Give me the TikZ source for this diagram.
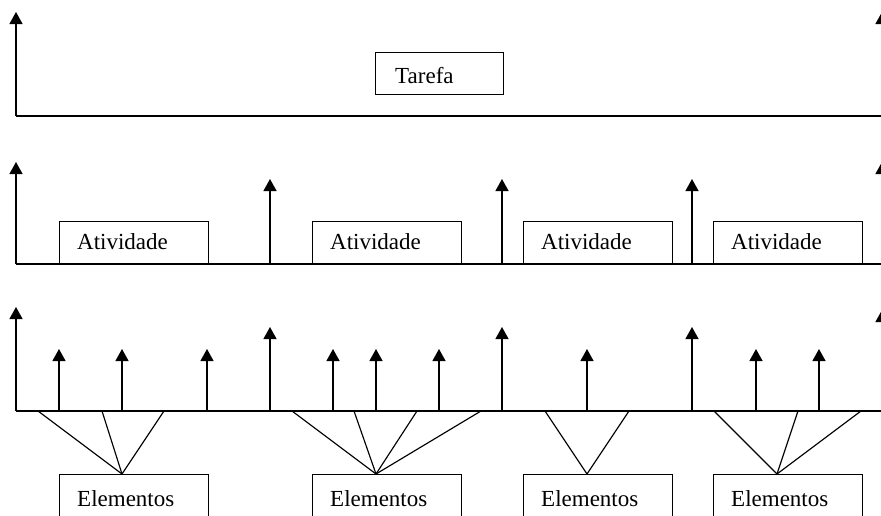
\documentclass[tikz,border=0pt]{standalone}
\usepackage{fontspec}
\setmainfont{Liberation Serif}
\usetikzlibrary{arrows.meta}
\begin{document}
\begin{tikzpicture}[x=1pt,y=-1pt,
  axis/.style={line width=1.3pt},
  up/.style={line width=1.3pt,-{Triangle[length=12pt,width=13pt]}},
  fan/.style={line width=1.15pt},
  box/.style={draw,line width=1pt,anchor=north west,inner sep=0pt},
  lbl/.style={anchor=base west,inner sep=0pt,font=\fontsize{23}{27}\selectfont}]
\useasboundingbox (0,0) rectangle (881,515);
\clip (0,0) rectangle (881,515);
% ---------- top level: Tarefa ----------
\coordinate (tL) at (16,116);
\coordinate (tR) at (882,116);
\coordinate (tLt) at (16,12);
\coordinate (tRt) at (882,12);
\draw[axis] (tL) -- (tR);
\draw[up] (tL) -- (tLt);
\draw[up] (tR) -- (tRt);
\node[box,minimum width=128pt,minimum height=42pt] (tarefa) at (375,52) {};
\node[lbl] (tarefaT) at (395,83) {Tarefa};
% ---------- middle level: Atividade ----------
\coordinate (mL) at (16,264);
\coordinate (mR) at (882,264);
\draw[axis] (mL) -- (mR);
\foreach \n/\x/\t in {a/16/162,b/270/179,c/502/179,d/692/179,e/882/162}{
  \coordinate (m\n b) at (\x,264);
  \coordinate (m\n t) at (\x,\t);
  \draw[up] (m\n b) -- (m\n t);
}
\foreach \n/\x in {1/59,2/312,3/523,4/713}{
  \node[box,minimum width=149pt,minimum height=43pt] (at\n) at (\x,221) {};
  \node[lbl] (atT\n) at (\x+18,249) {Atividade};
}
% ---------- bottom level: Elementos ----------
\coordinate (bL) at (16,411);
\coordinate (bR) at (882,411);
\draw[axis] (bL) -- (bR);
\foreach \n/\x/\t in {a/16/307,b/270/327,c/502/327,d/692/327,e/882/310,
  s1/59/349,s2/122/349,s3/207/349,s4/333/349,s5/376/349,s6/439/349,
  s7/587/349,s8/756/349,s9/819/349}{
  \coordinate (b\n b) at (\x,411);
  \coordinate (b\n t) at (\x,\t);
  \draw[up] (b\n b) -- (b\n t);
}
\foreach \n/\x in {1/59,2/312,3/523,4/713}{
  \node[box,minimum width=149pt,minimum height=60pt] (el\n) at (\x,474) {};
  \node[lbl] (elT\n) at (\x+18,506) {Elementos};
}
% fan apexes
\coordinate (f1) at (122,474);
\coordinate (f2) at (376,474);
\coordinate (f3) at (587,474);
\coordinate (f4) at (777,474);
\foreach \x in {38,102,164}{\coordinate (p) at (\x,411); \draw[fan] (p) -- (f1);}
\foreach \x in {292,354,417,481}{\coordinate (p) at (\x,411); \draw[fan] (p) -- (f2);}
\foreach \x in {545,629}{\coordinate (p) at (\x,411); \draw[fan] (p) -- (f3);}
\foreach \x in {714,798,861}{\coordinate (p) at (\x,411); \draw[fan] (p) -- (f4);}
\end{tikzpicture}
\end{document}
